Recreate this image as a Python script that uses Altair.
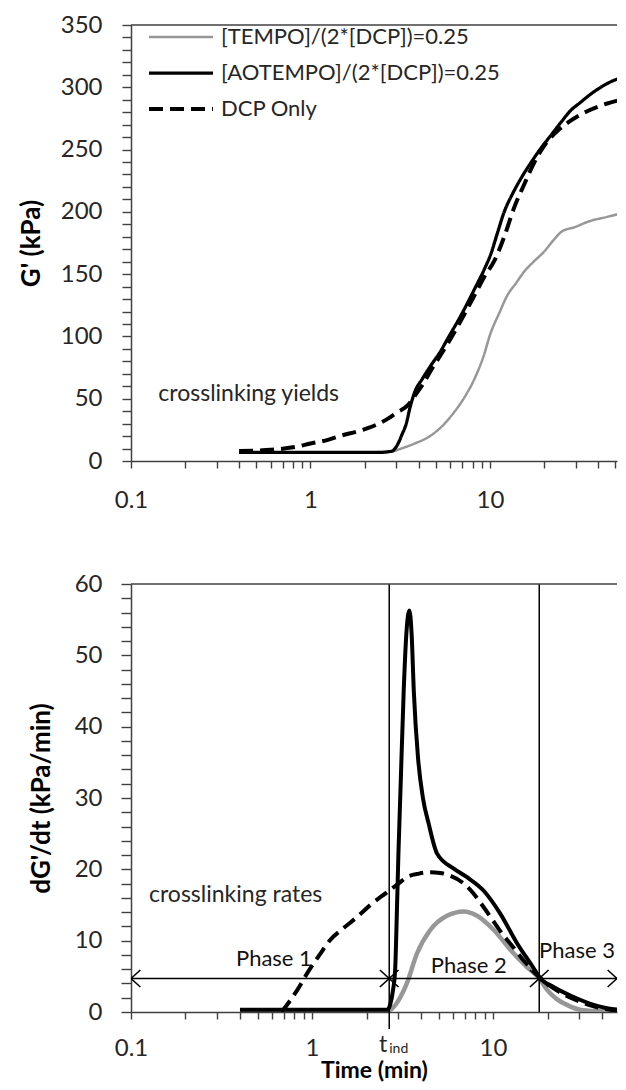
import altair as alt
import pandas as pd

FONT = "Lato"
INK = "#262626"
AXIS_INK = "#404040"
GRAY = "#979797"

SERIES = ["[TEMPO]/(2*[DCP])=0.25", "[AOTEMPO]/(2*[DCP])=0.25", "DCP Only"]

# ---------- top panel: G' (kPa) vs time (min) ----------
g_tempo_t = [0.4, 0.6, 1.0, 2.0, 2.8, 3.2, 3.8, 4.7, 5.5, 6.3, 7.2, 8.2, 9.2, 10.1, 11.2, 12.5,
             14.0, 15.5, 17.5, 20.0, 22.5, 25.0, 30.0, 35.0, 45.0, 58.0]
g_tempo_v = [7, 7, 7, 7, 7.5, 10, 14, 20.6, 29, 39, 51, 66, 84, 103, 118, 133,
             143, 152, 160, 168, 177, 184, 188, 192, 196, 200]

g_aotempo_t = [0.4, 0.7, 1.0, 1.5, 2.0, 2.5, 2.85, 3.05, 3.25, 3.4, 3.6, 3.8, 4.2, 4.7, 5.3, 5.8,
               6.9, 8.2, 9.3, 10.1, 11.0, 12.0, 13.3, 14.9, 17.0, 19.2, 22.0, 24.9, 28.0, 32.0,
               36.0, 41.4, 48.0, 58.0]
g_aotempo_v = [7, 7, 7, 7, 7, 7, 8, 13, 22, 29, 44, 55, 66, 77, 88, 98,
               117, 138, 154, 166, 183, 200, 214, 227, 240, 251, 262, 272, 281, 288,
               294, 300, 305, 309]

g_dcp_t = [0.4, 0.6, 0.8, 1.0, 1.25, 1.5, 1.8, 2.1, 2.4, 2.7, 3.0, 3.5, 3.8, 4.2, 4.7, 5.8,
           6.9, 8.2, 9.3, 10.6, 12.0, 13.6, 15.5, 17.7, 20.5, 23.8, 28.0, 35.0, 45.0, 58.0]
g_dcp_v = [8, 9, 11, 14, 17, 20.6, 23.5, 26.5, 30, 34, 38.5, 45, 52, 61, 73, 94,
           113, 133, 148, 161, 180, 203, 222, 240, 255, 265, 273, 281, 287, 291]

# ---------- bottom panel: dG'/dt (kPa/min) vs time (min) ----------
r_tempo_t = [0.4, 1.0, 2.0, 2.65, 2.8, 3.0, 3.34, 3.8, 4.5, 5.57, 6.9, 8.16, 10.1, 12.5, 15.4,
             18.0, 19.9, 22.5, 25.6, 30.5, 40.0, 58.0]
r_tempo_v = [0.1, 0.1, 0.1, 0.2, 0.6, 1.6, 4.0, 8.2, 11.5, 13.5, 14.1, 13.5, 11.5, 8.7, 6.3,
             4.7, 3.1, 1.8, 1.0, 0.3, 0.1, 0.1]

r_aotempo_t = [0.4, 1.0, 2.0, 2.6, 2.7, 2.8, 2.88, 2.95, 3.0, 3.08, 3.21, 3.32, 3.45, 3.55, 3.65,
               3.85, 4.1, 4.42, 4.91, 6.07, 7.18, 8.88, 10.96, 13.6, 16.8, 18.0, 21.6, 27.9,
               36.0, 52.0, 58.0]
r_aotempo_v = [0.3, 0.3, 0.3, 0.3, 1.0, 3.0, 6.0, 15.0, 22.0, 31.0, 45.0, 53.0, 56.3, 53.0, 45.0,
               35.7, 30.0, 26.3, 22.2, 20.1, 18.9, 17.0, 13.8, 9.6, 6.1, 4.9, 3.5, 2.1,
               1.0, 0.3, 0.3]

r_dcp_t = [0.68, 0.83, 0.96, 1.1, 1.26, 1.5, 1.77, 2.1, 2.6, 3.0, 3.34, 3.9, 4.5, 5.1, 5.8, 6.9,
           7.8, 8.7, 9.7, 11.0, 13.0, 15.0, 18.0, 22.6, 28.0, 36.0, 48.0, 58.0]
r_dcp_v = [0.0, 3.1, 5.8, 8.0, 10.1, 11.8, 13.3, 15.0, 16.8, 18.0, 18.9, 19.4, 19.6, 19.5, 19.1, 18.0,
           16.6, 15.0, 13.3, 11.3, 9.0, 7.0, 4.9, 3.0, 1.8, 0.8, 0.2, 0.1]

# phase markers
T_IND = 2.67
T_PHASE3 = 18.0
ARROW_Y = 4.7
phase_labels = ["Phase 1", "Phase 2"]
phase_t = [0.616, 7.34]
phase_v = [7.4, 6.4]
phase3_label = "Phase 3"
phase3_v = 8.5

# axes
X_DOMAIN_TOP = [0.1, 51.0]
X_DOMAIN_BOT = [0.1, 48.4]
X_TICKS_TOP = [0.1, 0.2, 0.3, 0.4, 0.5, 0.6, 0.7, 0.8, 0.9, 1, 2, 3, 4, 5, 6, 7, 8, 9,
               10, 20, 30, 40, 50]
X_TICKS_BOT = [0.1, 0.2, 0.3, 0.4, 0.5, 0.6, 0.7, 0.8, 0.9, 1, 2, 3, 4, 5, 6, 7, 8, 9,
               10, 20, 30, 40]
X_MAJOR = [0.1, 1, 10]
X_MAJOR_LABELS = ["0.1", "1", "10"]
Y_TICKS_TOP = list(range(0, 351, 10))
Y_TICKS_BOT = list(range(0, 61, 2))

W = 486
H_TOP = 436
H_BOT = 428

x_label_expr = " : ".join(
    f"datum.value == {v} ? '{l}'" for v, l in zip(X_MAJOR, X_MAJOR_LABELS)) + " : ''"


def series_frame(ts, vs, name):
    return pd.DataFrame({"t": ts, "v": vs, "series": name})


top_df = pd.concat([
    series_frame(g_tempo_t, g_tempo_v, SERIES[0]),
    series_frame(g_dcp_t, g_dcp_v, SERIES[2]),
    series_frame(g_aotempo_t, g_aotempo_v, SERIES[1]),
])

x_top = alt.X("t:Q", scale=alt.Scale(type="log", domain=X_DOMAIN_TOP, nice=False),
              axis=alt.Axis(values=X_TICKS_TOP, tickCount=200, labelExpr=x_label_expr, title=None,
                            tickSize=7, labelPadding=20, labelOverlap=False,
                            labelFlush=False, labelBound=False))
y_top = alt.Y("v:Q", scale=alt.Scale(domain=[0, 350], nice=False, zero=False),
              axis=alt.Axis(values=Y_TICKS_TOP, tickCount=200,
                            labelExpr="datum.value % 50 == 0 ? format(datum.value, 'd') : ''",
                            title="G' (kPa)", tickSize=9, labelPadding=20,
                            titlePadding=16, labelOverlap=False))

legend = alt.Legend(title=None, orient="none", legendX=16, legendY=1,
                    symbolType="stroke", symbolSize=4096, labelFont=FONT,
                    labelFontSize=22, labelColor=INK, rowPadding=14, clipHeight=22,
                    labelOffset=6, labelLimit=400, padding=0)

top_lines = alt.Chart(top_df).mark_line(clip=True, interpolate="monotone").encode(
    x=x_top, y=y_top,
    color=alt.Color("series:N", scale=alt.Scale(domain=SERIES, range=[GRAY, "#000000", "#000000"]),
                    legend=legend),
    strokeDash=alt.StrokeDash("series:N", scale=alt.Scale(domain=SERIES, range=[[1, 0], [1, 0], [14, 7]]),
                              legend=legend),
    strokeWidth=alt.StrokeWidth("series:N", scale=alt.Scale(domain=SERIES, range=[2.5, 4, 4]),
                                legend=legend),
)

frame_top = alt.Chart(pd.DataFrame({"k": [0]})).mark_rule(color=AXIS_INK, strokeWidth=1.5).encode(
    x=alt.value(0), x2=alt.value(W), y=alt.value(0))

yields_text = alt.Chart(pd.DataFrame({"t": [0.142], "v": [54], "label": ["crosslinking yields"]})).mark_text(
    align="left", baseline="middle", font=FONT, fontSize=23, color=INK).encode(
    x="t:Q", y="v:Q", text="label:N")

top = alt.layer(top_lines, frame_top, yields_text).properties(width=W, height=H_TOP)

# ---------- bottom ----------
x_bot = alt.X("t:Q", scale=alt.Scale(type="log", domain=X_DOMAIN_BOT, nice=False),
              axis=alt.Axis(values=X_TICKS_BOT, tickCount=200, labelExpr=x_label_expr, title="Time (min)",
                            tickSize=7, labelPadding=17, labelOverlap=False,
                            labelFlush=False, labelBound=False, titlePadding=-1, titleFontSize=23))
y_bot = alt.Y("v:Q", scale=alt.Scale(domain=[0, 60], nice=False, zero=False),
              axis=alt.Axis(values=Y_TICKS_BOT, tickCount=200,
                            labelExpr="datum.value % 10 == 0 ? format(datum.value, 'd') : ''",
                            title="dG'/dt (kPa/min)", tickSize=10, labelPadding=19,
                            titlePadding=20, labelOverlap=False))

bl_tempo = alt.Chart(series_frame(r_tempo_t, r_tempo_v, SERIES[0])).mark_line(
    clip=True, color=GRAY, strokeWidth=4.5, interpolate="monotone").encode(x=x_bot, y=y_bot)
bl_dcp = alt.Chart(series_frame(r_dcp_t, r_dcp_v, SERIES[2])).mark_line(
    clip=True, color="#000000", strokeWidth=4, strokeDash=[14, 7], interpolate="monotone").encode(
    x="t:Q", y="v:Q")
bl_aot = alt.Chart(series_frame(r_aotempo_t, r_aotempo_v, SERIES[1])).mark_line(
    clip=True, color="#000000", strokeWidth=4, interpolate="monotone").encode(x="t:Q", y="v:Q")

vlines = alt.Chart(pd.DataFrame({"t": [T_IND, T_PHASE3], "y0": [-2.4, 0], "y1": [60, 60]})).mark_rule(
    color="#000000", strokeWidth=1.5).encode(x="t:Q", y="y0:Q", y2="y1:Q")

hline = alt.Chart(pd.DataFrame({"t0": [X_DOMAIN_BOT[0]], "t1": [X_DOMAIN_BOT[1]], "v": [ARROW_Y]})).mark_rule(
    color="#000000", strokeWidth=1.5).encode(x="t0:Q", x2="t1:Q", y="v:Q")

LEFT_HEAD = "M 1.1 -1 L 0 0 L 1.1 1"
RIGHT_HEAD = "M -1.1 -1 L 0 0 L -1.1 1"
left_heads = alt.Chart(pd.DataFrame({"t": [X_DOMAIN_BOT[0], T_IND, T_PHASE3], "v": [ARROW_Y] * 3})).mark_point(
    shape=LEFT_HEAD, filled=False, size=289, color="#000000", strokeWidth=1.6, opacity=1, clip=True).encode(
    x="t:Q", y="v:Q")
right_heads = alt.Chart(pd.DataFrame({"t": [T_IND, T_PHASE3, X_DOMAIN_BOT[1]], "v": [ARROW_Y] * 3})).mark_point(
    shape=RIGHT_HEAD, filled=False, size=289, color="#000000", strokeWidth=1.6, opacity=1, clip=True).encode(
    x="t:Q", y="v:Q")

phase_text = alt.Chart(pd.DataFrame({"t": phase_t, "v": phase_v, "label": phase_labels})).mark_text(
    align="center", baseline="middle", font=FONT, fontSize=22, color="#111111").encode(
    x="t:Q", y="v:Q", text="label:N")
phase3_text = alt.Chart(pd.DataFrame({"t": [X_DOMAIN_BOT[1]], "v": [phase3_v], "label": [phase3_label]})).mark_text(
    align="right", baseline="middle", font=FONT, fontSize=22, color="#111111", dx=-2).encode(
    x="t:Q", y="v:Q", text="label:N")

rates_text = alt.Chart(pd.DataFrame({"t": [0.1257], "v": [16.4], "label": ["crosslinking rates"]})).mark_text(
    align="left", baseline="middle", font=FONT, fontSize=23, color=INK).encode(
    x="t:Q", y="v:Q", text="label:N")

tind_t = alt.Chart(pd.DataFrame({"t": [T_IND], "v": [0], "label": ["t"]})).mark_text(
    align="right", baseline="alphabetic", font=FONT, fontSize=23, color=INK, dx=-2, dy=40).encode(
    x="t:Q", y="v:Q", text="label:N")
tind_sub = alt.Chart(pd.DataFrame({"t": [T_IND], "v": [0], "label": ["ind"]})).mark_text(
    align="left", baseline="alphabetic", font=FONT, fontSize=14, color=INK, dx=0, dy=41).encode(
    x="t:Q", y="v:Q", text="label:N")

frame_bot = alt.Chart(pd.DataFrame({"k": [0]})).mark_rule(color=AXIS_INK, strokeWidth=1.5).encode(
    x=alt.value(0), x2=alt.value(W), y=alt.value(0))

bottom = alt.layer(bl_tempo, bl_dcp, bl_aot, vlines, hline, left_heads, right_heads,
                   phase_text, phase3_text, rates_text, tind_t, tind_sub, frame_bot).properties(
    width=W, height=H_BOT)

chart = alt.vconcat(top, bottom, spacing=123, bounds="flush").properties(
    padding={"left": 10, "top": 5, "right": 0, "bottom": 0}
).configure_view(stroke=None).configure_axis(
    grid=False, domainColor=AXIS_INK, domainWidth=1.5, tickColor=AXIS_INK, tickWidth=1.4,
    labelFont=FONT, labelFontSize=24, labelColor=INK,
    titleFont=FONT, titleFontSize=26, titleFontWeight="bold", titleColor="#000000",
)

chart.save("out.html", embed_options={"renderer": "svg", "actions": False})
